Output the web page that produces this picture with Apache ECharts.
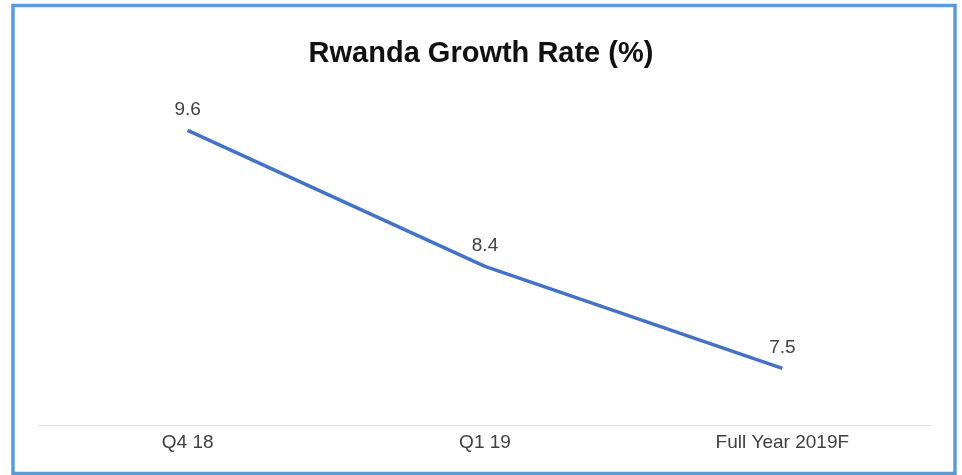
<!doctype html>
<html lang="en" style="height: 100%">
<head>
  <meta charset="utf-8" />
  <script type="text/javascript" src="https://fastly.jsdelivr.net/npm/echarts@6.0.0/dist/echarts.min.js"></script>
</head>
<body style="height: 100%; margin: 0; background: #fff">
  <div id="main" style="width: 962px; height: 475px"></div>
  <script type="text/javascript">
    var categories = ['Q4 18', 'Q1 19', 'Full Year 2019F'];
    var growth = [9.6, 8.4, 7.5];

    var myChart = echarts.init(document.getElementById('main'));
    var option = {
      animation: false,
      backgroundColor: '#fff',
      title: {
        text: 'Rwanda Growth Rate (%)',
        left: 'center',
        top: 34,
        textStyle: {
          fontFamily: 'Liberation Sans',
          fontWeight: 'bold',
          fontSize: 29,
          color: '#111'
        }
      },
      graphic: [
        {
          type: 'rect',
          shape: { x: 13, y: 5.5, width: 942, height: 468 },
          style: { fill: 'none', stroke: '#5b9bd5', lineWidth: 3.5 },
          z: 100
        }
      ],
      grid: { left: 39, right: 31, top: 85, bottom: 50 },
      xAxis: {
        type: 'category',
        data: categories,
        boundaryGap: true,
        axisLine: { lineStyle: { color: '#d9d9d9', width: 1 } },
        axisTick: { show: false },
        axisLabel: {
          fontFamily: 'Liberation Sans',
          fontSize: 19,
          color: '#404040',
          margin: 8
        }
      },
      yAxis: {
        type: 'value',
        min: 7,
        max: 10,
        show: false
      },
      series: [
        {
          type: 'line',
          data: growth,
          symbol: 'circle',
          symbolSize: 1,
          itemStyle: { color: 'rgba(0,0,0,0)' },
          lineStyle: { color: '#4472c4', width: 3.5 },
          label: {
            show: true,
            position: 'top',
            distance: 11,
            fontFamily: 'Liberation Sans',
            fontSize: 19,
            color: '#404040'
          }
        }
      ]
    };
    myChart.setOption(option);
  </script>
</body>
</html>
